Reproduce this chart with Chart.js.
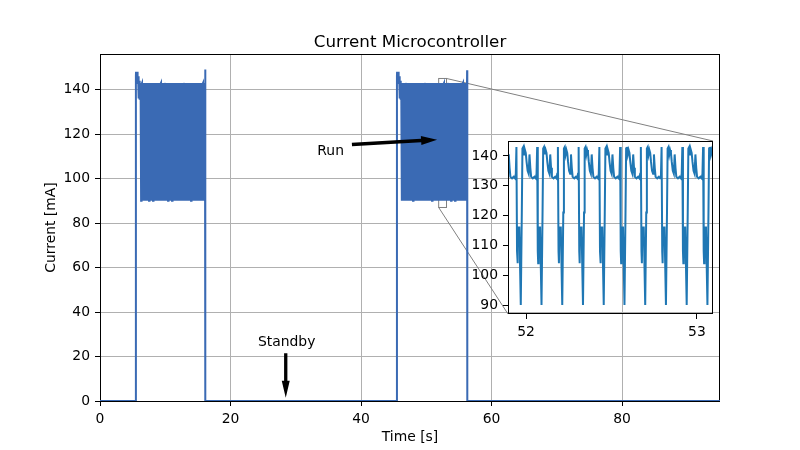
<!DOCTYPE html>
<html>
<head>
<meta charset="utf-8">
<script src="https://cdn.jsdelivr.net/npm/chart.js@4.4.0/dist/chart.umd.min.js"></script>
<style>
  body { margin: 0; background: #fff; }
  #wrap { position: relative; width: 800px; height: 450px; }
  #main { position: absolute; left: 0; top: 0; }
  #zoom { position: absolute; left: 450px; top: 125px; }
</style>
</head>
<body>
<div id="wrap">
  <canvas id="main" width="800" height="450"></canvas>
  <canvas id="zoom" width="270" height="220"></canvas>
</div>
<script>
// run phases (seconds) and the spike at the end of each run (mA)
const runStart = [5.5, 45.5];
const blockStart = [6.3, 46.263];
const blockEnd = [16.2, 56.25];
const endSpike = [149, 148.7];
const xEnd = 95;

// short burst right after switch-on: seconds after runStart, mA
const capT = [0, 0.02, 0.06, 0.10, 0.14, 0.18, 0.22, 0.26, 0.30, 0.34, 0.38, 0.42, 0.46, 0.50, 0.54, 0.58, 0.62, 0.66, 0.70, 0.74];
const capY = [146, 148, 143, 147.5, 143, 148, 144, 147, 142.5, 146, 143, 145, 136, 144, 135.5, 143, 137, 142, 138, 142];

// one period of the run waveform (fraction of period, mA)
const period = 0.1214;
const waveT = [0, 0.05, 0.08, 0.12, 0.16, 0.20, 0.24, 0.28, 0.33, 0.38, 0.42, 0.46, 0.50, 0.58, 0.66, 0.72, 0.76, 0.79, 0.82, 0.84, 0.86, 0.93];
const waveY = [90, 121, 142.5, 143, 140.5, 142, 141, 138, 135, 134, 140.5, 136, 133, 132.5, 133, 132.5, 134, 143, 108, 104, 116, 116];

// axis ticks
const mainXTicks = [0, 20, 40, 60, 80];
const mainYTicks = [0, 20, 40, 60, 80, 100, 120, 140];
const zoomXTicks = [52, 53];
const zoomYTicks = [90, 100, 110, 120, 130, 140];

// zoomed window
const zoomX = [51.894, 53.094];
const zoomY = [87, 145];

// build the trace: idle at 0, burst, repeated run period, spike, back to 0
const points = [{ x: 0, y: 0 }];
for (let r = 0; r < runStart.length; r++) {
  points.push({ x: runStart[r], y: 0 });
  capT.forEach((t, i) => points.push({ x: runStart[r] + t, y: capY[i] }));
  for (let t0 = blockStart[r]; t0 + period <= blockEnd[r]; t0 += period) {
    waveT.forEach((f, i) => points.push({ x: t0 + f * period, y: waveY[i] }));
  }
  points.push({ x: blockEnd[r], y: endSpike[r] });
  points.push({ x: blockEnd[r] + 0.03, y: 0 });
}
points.push({ x: xEnd, y: 0 });

const FONT = 'DejaVu Sans';
Chart.defaults.font.family = FONT;
Chart.defaults.font.size = 13.9;
Chart.defaults.color = '#000';

const inset = { left: 450, top: 125, w: 270, h: 220, padL: 58, padT: 16, padR: 7, padB: 31 };

const notes = [
  { text: 'Run', x: 33.3, y: 110.8, from: [38.6, 115.3], to: [51.65, 117.5], w: 3.5, hw: 9, hl: 16 },
  { text: 'Standby', x: 24.2, y: 24.8, from: [28.46, 21.5], to: [28.46, 1.5], w: 3.3, hw: 8, hl: 17 }
];

function arrow(ctx, x0, y0, x1, y1, w, hw, hl) {
  const dx = x1 - x0, dy = y1 - y0, L = Math.hypot(dx, dy);
  const ux = dx / L, uy = dy / L, nx = -uy, ny = ux;
  const bx = x1 - ux * hl, by = y1 - uy * hl;
  ctx.beginPath();
  ctx.moveTo(x0 + nx * w / 2, y0 + ny * w / 2);
  ctx.lineTo(bx + nx * w / 2, by + ny * w / 2);
  ctx.lineTo(bx + nx * hw / 2, by + ny * hw / 2);
  ctx.lineTo(x1, y1);
  ctx.lineTo(bx - nx * hw / 2, by - ny * hw / 2);
  ctx.lineTo(bx - nx * w / 2, by - ny * w / 2);
  ctx.lineTo(x0 - nx * w / 2, y0 - ny * w / 2);
  ctx.closePath();
  ctx.fill();
}

const tickList = (list) => (scale) => { scale.ticks = list.map(v => ({ value: v })); };

const mainDecor = {
  id: 'mainDecor',
  beforeDatasetsDraw(chart) {
    const { ctx, chartArea: a, scales: { x, y } } = chart;
    ctx.save();
    ctx.strokeStyle = '#000';
    ctx.lineWidth = 1;
    ctx.strokeRect(a.left + 0.5, a.top + 0.5, a.right - a.left - 1, a.bottom - a.top);
    // zoom window marker and connectors
    const x0 = x.getPixelForValue(zoomX[0]), x1 = x.getPixelForValue(zoomX[1]);
    const y0 = y.getPixelForValue(zoomY[0]), y1 = y.getPixelForValue(zoomY[1]);
    ctx.strokeStyle = '#808080';
    ctx.strokeRect(x0, y1, x1 - x0, y0 - y1);
    const iL = inset.left + inset.padL, iR = inset.left + inset.w - inset.padR;
    const iT = inset.top + inset.padT, iB = inset.top + inset.h - inset.padB;
    ctx.beginPath();
    ctx.moveTo(x1, y1); ctx.lineTo(iR, iT);
    ctx.moveTo(x0, y0); ctx.lineTo(iL, iB);
    ctx.stroke();
    ctx.restore();
  },
  afterDraw(chart) {
    const { ctx, chartArea: a, scales: { x, y } } = chart;
    ctx.save();
    ctx.fillStyle = '#000';
    ctx.textAlign = 'center';
    ctx.textBaseline = 'alphabetic';
    ctx.font = '16.7px "' + FONT + '"';
    ctx.fillText('Current Microcontroller', (a.left + a.right) / 2, 47);
    ctx.font = '13.9px "' + FONT + '"';
    ctx.fillText('Time [s]', (a.left + a.right) / 2, 441);
    ctx.save();
    ctx.translate(55, (a.top + a.bottom) / 2);
    ctx.rotate(-Math.PI / 2);
    ctx.fillText('Current [mA]', 0, 0);
    ctx.restore();
    ctx.textAlign = 'left';
    notes.forEach(n => {
      ctx.fillText(n.text, x.getPixelForValue(n.x), y.getPixelForValue(n.y));
      arrow(ctx, x.getPixelForValue(n.from[0]), y.getPixelForValue(n.from[1]),
        x.getPixelForValue(n.to[0]), y.getPixelForValue(n.to[1]), n.w, n.hw, n.hl);
    });
    ctx.restore();
  }
};

const zoomFrame = {
  id: 'zoomFrame',
  afterDatasetsDraw(chart) {
    const { ctx, chartArea: a } = chart;
    ctx.save();
    ctx.strokeStyle = '#000';
    ctx.lineWidth = 1;
    ctx.strokeRect(a.left + 0.5, a.top + 0.5, a.right - a.left - 1, a.bottom - a.top - 1);
    ctx.restore();
  }
};

new Chart(document.getElementById('main'), {
  type: 'line',
  data: {
    datasets: [{
      data: points,
      borderColor: '#3a6ab4',
      borderWidth: 2,
      pointRadius: 0,
      tension: 0,
      fill: false
    }]
  },
  options: {
    responsive: false,
    animation: false,
    events: [],
    parsing: false,
    layout: { padding: { top: 54, right: 80, left: 0, bottom: 0 } },
    plugins: { legend: { display: false }, title: { display: false }, tooltip: { enabled: false } },
    scales: {
      x: {
        type: 'linear', min: 0, max: 95,
        afterBuildTicks: tickList(mainXTicks),
        ticks: { padding: 5, maxRotation: 0, autoSkip: false },
        grid: { color: '#b0b0b0', lineWidth: 1, tickColor: '#000', tickLength: 5 },
        border: { display: false },
        afterFit(s) { s.height = 49; }
      },
      y: {
        type: 'linear', min: 0, max: 156,
        afterBuildTicks: tickList(mainYTicks),
        ticks: { padding: 5, autoSkip: false },
        grid: { color: '#b0b0b0', lineWidth: 1, tickColor: '#000', tickLength: 5 },
        border: { display: false },
        afterFit(s) { s.width = 100; }
      }
    }
  },
  plugins: [mainDecor]
});

new Chart(document.getElementById('zoom'), {
  type: 'line',
  data: {
    datasets: [{
      data: points,
      borderColor: '#1f77b4',
      borderWidth: 2,
      pointRadius: 0,
      tension: 0,
      fill: false,
      clip: 0
    }]
  },
  options: {
    responsive: false,
    animation: false,
    events: [],
    parsing: false,
    layout: { padding: { top: inset.padT, right: inset.padR, left: 0, bottom: 0 } },
    plugins: { legend: { display: false }, title: { display: false }, tooltip: { enabled: false } },
    scales: {
      x: {
        type: 'linear', min: zoomX[0], max: zoomX[1],
        afterBuildTicks: tickList(zoomXTicks),
        ticks: { padding: 5, maxRotation: 0, autoSkip: false },
        grid: { drawOnChartArea: false, color: '#000', tickColor: '#000', tickLength: 5 },
        border: { display: false },
        afterFit(s) { s.height = inset.padB; }
      },
      y: {
        type: 'linear', min: zoomY[0], max: zoomY[1],
        afterBuildTicks: tickList(zoomYTicks),
        ticks: { padding: 5, autoSkip: false },
        grid: { drawOnChartArea: false, color: '#000', tickColor: '#000', tickLength: 5 },
        border: { display: false },
        afterFit(s) { s.width = inset.padL; }
      }
    }
  },
  plugins: [zoomFrame]
});
</script>
</body>
</html>
